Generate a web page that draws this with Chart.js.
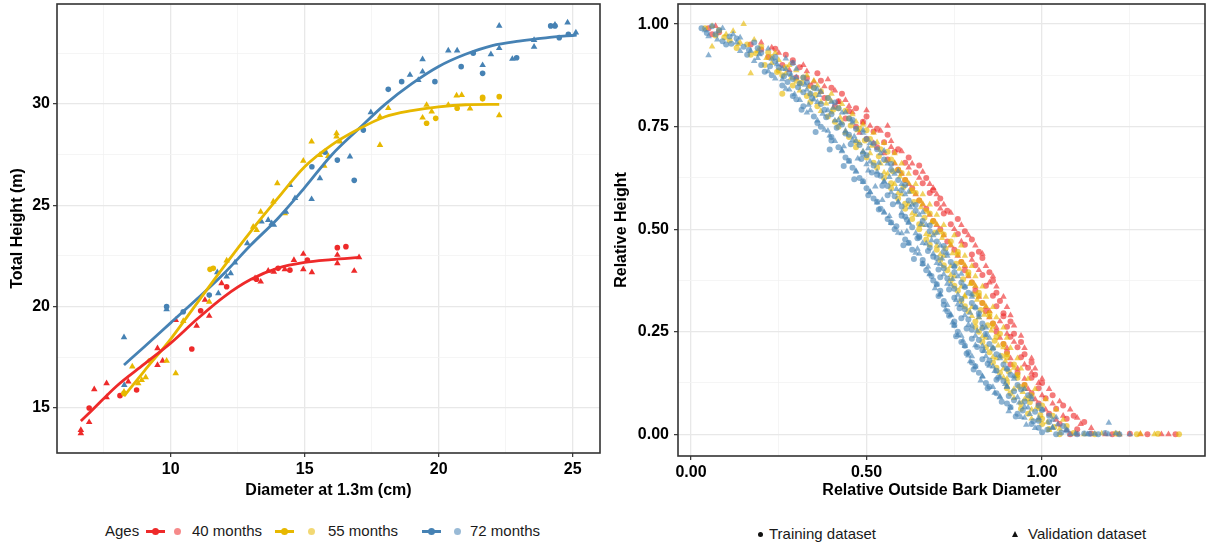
<!DOCTYPE html>
<html><head><meta charset="utf-8">
<script src="https://cdn.jsdelivr.net/npm/chart.js@4.4.1/dist/chart.umd.min.js"></script>
<style>
body{margin:0;background:#fff;width:1209px;height:550px;position:relative;overflow:hidden;font-family:"Liberation Sans",Arial,sans-serif;}
#c1{position:absolute;left:0;top:0;}
#c2{position:absolute;left:604px;top:0;}
.t{position:absolute;font-size:15px;color:#1a1a1a;white-space:nowrap;line-height:18px;}
.ln{position:absolute;height:3px;}
.dt{position:absolute;border-radius:50%;}
</style></head><body>
<canvas id="c1" width="604" height="510"></canvas>
<canvas id="c2" width="605" height="510"></canvas>
<div id="legend"></div>
<script>
// ---------- Left panel data (diameter cm, height m) ----------
const ageLabels = ['40 months','55 months','72 months'];
const ageColors = ['#EE2A2A','#E7B800','#4682B4'];

const age40Train = [[6.96,15.0],[8.11,15.61],[8.73,15.89],[10.79,17.91],[11.12,19.8],[12.09,20.98],[13.2,21.35],[14.01,21.89],[14.45,21.8],[15.1,22.3],[16.22,22.91],[16.54,22.96]];
const age40Valid = [[6.65,13.91],[6.65,13.75],[6.96,14.3],[7.15,15.92],[7.61,16.22],[7.61,15.53],[8.42,16.3],[9.51,17.94],[9.51,17.12],[9.7,17.33],[10.19,19.34],[10.97,19.05],[11.44,19.54],[11.28,20.33],[11.9,21.15],[13.15,21.4],[13.36,21.23],[13.64,21.77],[13.85,21.72],[14.26,21.84],[14.6,22.3],[14.95,22.6],[14.95,21.84],[15.27,21.69],[16.22,22.55],[16.22,22.14],[16.85,21.76],[17.03,22.43]];
const age55Train = [[8.26,15.72],[9.23,17.33],[11.47,21.84],[11.59,21.89],[19.55,29.05],[19.89,29.29],[20.69,29.79],[21.64,30.33],[21.64,30.25],[22.26,30.36]];
const age55Valid = [[8.26,15.8],[8.57,17.04],[8.79,16.22],[8.92,16.38],[9.07,16.51],[9.85,17.33],[10.19,16.71],[10.47,19.29],[11.44,20.24],[12.09,22.27],[13.08,23.94],[13.21,23.78],[13.36,24.68],[13.98,26.08],[13.83,25.18],[14.26,24.6],[14.95,27.19],[15.26,28.14],[15.57,27.48],[15.76,27.64],[15.88,27.43],[15.73,26.95],[16.19,28.55],[16.19,28.39],[16.32,28.14],[18.12,29.79],[17.81,29.37],[17.81,27.97],[19.55,29.95],[19.4,29.32],[19.74,29.62],[20.36,29.95],[20.67,30.41],[20.86,30.44],[21.17,29.77],[22.26,29.44]];
const age72Train = [[9.85,20.0],[10.47,19.75],[11.44,20.57],[15.27,26.9],[15.76,27.62],[16.22,27.23],[16.85,26.23],[17.19,28.71],[18.12,30.72],[18.62,31.1],[19.86,31.1],[20.84,31.84],[21.29,32.5],[21.64,31.51],[22.91,32.28],[24.18,33.85],[24.34,33.85],[24.5,33.27],[24.84,33.44]];
const age72Valid = [[8.26,18.49],[8.27,16.13],[9.85,19.87],[11.78,20.66],[11.74,21.69],[12.09,21.48],[12.24,21.64],[12.4,22.17],[12.86,23.12],[13.39,24.19],[13.64,24.27],[13.77,24.11],[13.85,24.03],[14.3,24.68],[14.64,25.35],[14.45,26.0],[15.26,25.3],[15.57,26.33],[16.69,27.4],[17.47,29.59],[18.93,31.43],[19.24,31.18],[19.4,32.2],[19.4,31.59],[20.36,32.63],[20.69,32.63],[21.64,31.91],[21.95,32.45],[22.26,33.85],[22.26,32.75],[22.75,32.22],[23.56,33.15],[23.56,32.82],[24.34,33.9],[24.81,34.01],[25.12,33.52]];

const fit40X = [6.65,7,8,9,10,11,12,13,14,15,16,17.06];
const fit40Y = [14.36,14.8,16.1,17.15,18.2,19.4,20.5,21.35,21.9,22.18,22.32,22.43];
const fit55X = [8.26,9,10,11,12,13,14,15,16,17,18,19,20,21,22.26];
const fit55Y = [15.59,16.8,18.4,20.2,22.0,23.73,25.35,26.9,27.97,28.75,29.37,29.67,29.86,29.96,29.98];
const fit72X = [8.26,9,10,11,12,13,14,15,16,17,18,19,20,21,22,23,24,25.15];
const fit72Y = [17.12,18.0,19.2,20.4,21.65,23.05,24.35,25.87,27.47,28.75,29.98,31.0,31.85,32.45,32.88,33.1,33.26,33.4];

const leftXMajor = [10,15,20,25], leftXMinor = [7.5,12.5,17.5,22.5];
const leftYMajor = [15,20,25,30], leftYMinor = [17.5,22.5,27.5,32.5];

// ---------- Right panel data (relative diameter, relative height) ----------
const blueTrain = [[0.03,0.99],[0.06,0.995],[0.08,0.985],[0.07,0.975],[0.11,0.97],[0.13,0.965],[0.1,0.95],[0.15,0.945],[0.18,0.955],[0.16,0.925],[0.2,0.93],[0.24,0.92],[0.2,0.9],[0.25,0.895],[0.29,0.905],[0.23,0.875],[0.28,0.88],[0.32,0.87],[0.26,0.85],[0.31,0.855],[0.35,0.845],[0.29,0.825],[0.34,0.83],[0.39,0.82],[0.32,0.8],[0.37,0.805],[0.42,0.795],[0.35,0.775],[0.4,0.78],[0.45,0.77],[0.37,0.75],[0.43,0.755],[0.47,0.745],[0.4,0.725],[0.45,0.73],[0.5,0.72],[0.42,0.7],[0.48,0.705],[0.53,0.695],[0.44,0.675],[0.5,0.68],[0.55,0.67],[0.46,0.65],[0.52,0.655],[0.57,0.645],[0.48,0.625],[0.54,0.63],[0.59,0.62],[0.5,0.6],[0.56,0.605],[0.6,0.595],[0.52,0.575],[0.58,0.58],[0.62,0.57],[0.54,0.55],[0.6,0.555],[0.64,0.545],[0.56,0.525],[0.61,0.53],[0.66,0.52],[0.58,0.5],[0.63,0.505],[0.68,0.495],[0.61,0.475],[0.65,0.48],[0.7,0.47],[0.63,0.45],[0.68,0.455],[0.72,0.445],[0.66,0.425],[0.7,0.43],[0.74,0.42],[0.67,0.4],[0.72,0.405],[0.75,0.395],[0.69,0.375],[0.73,0.38],[0.77,0.37],[0.71,0.35],[0.75,0.355],[0.79,0.345],[0.72,0.325],[0.77,0.33],[0.8,0.32],[0.73,0.3],[0.78,0.305],[0.82,0.295],[0.75,0.275],[0.79,0.28],[0.83,0.27],[0.76,0.25],[0.8,0.255],[0.84,0.245],[0.77,0.225],[0.82,0.23],[0.85,0.22],[0.79,0.2],[0.83,0.205],[0.87,0.195],[0.8,0.175],[0.85,0.18],[0.89,0.17],[0.82,0.15],[0.87,0.155],[0.91,0.145],[0.84,0.125],[0.89,0.13],[0.93,0.12],[0.87,0.1],[0.92,0.105],[0.96,0.095],[0.9,0.075],[0.95,0.08],[0.99,0.07],[0.93,0.05],[0.98,0.055],[1.02,0.045],[0.97,0.025],[1.02,0.03],[1.06,0.02],[1.0,0.005],[1.04,0.0],[1.1,0.0],[1.16,0.0],[1.22,0.0],
  [0.09,0.958],[0.19,0.941],[0.24,0.909],[0.21,0.884],[0.29,0.866],[0.33,0.858],[0.32,0.834],[0.3,0.817],[0.41,0.809],[0.38,0.791],[0.36,0.759],[0.46,0.766],[0.44,0.733],[0.4,0.716],[0.52,0.709],[0.49,0.684],[0.45,0.667],[0.57,0.659],[0.53,0.633],[0.49,0.617],[0.61,0.608],[0.56,0.583],[0.53,0.567],[0.64,0.559],[0.6,0.533],[0.57,0.516],[0.68,0.509],[0.65,0.483],[0.62,0.467],[0.72,0.459],[0.69,0.433],[0.66,0.416],[0.75,0.409],[0.71,0.383],[0.7,0.366],[0.78,0.359],[0.75,0.333],[0.72,0.316],[0.81,0.309],[0.77,0.283],[0.75,0.266],[0.83,0.259],[0.8,0.233],[0.78,0.216],[0.86,0.209],[0.83,0.183],[0.81,0.166],[0.9,0.159],[0.87,0.133],[0.85,0.116],[0.94,0.109],[0.92,0.083],[0.91,0.066],[1.0,0.059],[0.99,0.033],[0.99,0.016],[1.07,0.009],[1.12,0.002],[1.18,0.003],
  [0.045,0.978],[0.115,0.952],[0.165,0.937],[0.225,0.897],[0.265,0.873],[0.305,0.846],[0.275,0.859],[0.345,0.819],[0.315,0.791],[0.385,0.773],[0.415,0.747],[0.355,0.737],[0.455,0.707],[0.395,0.694],[0.485,0.671],[0.435,0.654],[0.515,0.638],[0.465,0.622],[0.545,0.606],[0.505,0.583],[0.575,0.561],[0.535,0.548],[0.615,0.523],[0.585,0.507],[0.645,0.478],[0.605,0.461],[0.675,0.447],[0.635,0.427],[0.705,0.402],[0.685,0.386],[0.735,0.353],[0.705,0.337],[0.765,0.307],[0.735,0.289],[0.785,0.258],[0.755,0.239],[0.815,0.213],[0.785,0.197],[0.845,0.172],[0.805,0.158],[0.875,0.138],[0.845,0.112],[0.905,0.093],[0.885,0.079],[0.945,0.058],[0.925,0.043],[0.975,0.032],[1.015,0.011],[1.055,0.004],[1.135,0.001]];
const blueValid = [[0.04,0.985],[0.05,0.97],[0.09,0.99],[0.12,0.975],[0.05,0.924],[0.13,0.955],[0.17,0.935],[0.22,0.94],[0.18,0.91],[0.23,0.915],[0.27,0.89],[0.22,0.885],[0.26,0.865],[0.3,0.87],[0.28,0.84],[0.33,0.84],[0.37,0.835],[0.31,0.815],[0.36,0.81],[0.4,0.81],[0.34,0.79],[0.39,0.79],[0.44,0.785],[0.36,0.765],[0.41,0.765],[0.46,0.76],[0.39,0.74],[0.44,0.74],[0.49,0.735],[0.41,0.715],[0.47,0.715],[0.51,0.71],[0.43,0.69],[0.49,0.69],[0.54,0.685],[0.45,0.665],[0.51,0.665],[0.56,0.66],[0.47,0.64],[0.53,0.64],[0.58,0.635],[0.49,0.615],[0.55,0.615],[0.6,0.61],[0.51,0.59],[0.57,0.59],[0.61,0.585],[0.53,0.565],[0.59,0.565],[0.63,0.56],[0.55,0.54],[0.6,0.54],[0.65,0.535],[0.57,0.515],[0.62,0.515],[0.67,0.51],[0.6,0.49],[0.64,0.49],[0.69,0.485],[0.62,0.465],[0.67,0.465],[0.71,0.46],[0.65,0.44],[0.69,0.44],[0.73,0.435],[0.66,0.415],[0.71,0.415],[0.75,0.41],[0.68,0.39],[0.72,0.39],[0.76,0.385],[0.7,0.365],[0.74,0.365],[0.78,0.36],[0.71,0.34],[0.76,0.34],[0.8,0.335],[0.73,0.315],[0.77,0.315],[0.81,0.31],[0.74,0.29],[0.78,0.29],[0.82,0.285],[0.75,0.265],[0.8,0.265],[0.84,0.26],[0.77,0.24],[0.81,0.24],[0.85,0.235],[0.78,0.215],[0.83,0.215],[0.86,0.21],[0.8,0.19],[0.84,0.19],[0.88,0.185],[0.81,0.165],[0.86,0.165],[0.9,0.16],[0.83,0.14],[0.88,0.14],[0.92,0.135],[0.86,0.115],[0.9,0.115],[0.95,0.11],[0.88,0.09],[0.93,0.09],[0.97,0.085],[0.91,0.065],[0.96,0.065],[1.0,0.06],[0.95,0.04],[0.99,0.04],[1.03,0.035],[0.98,0.015],[1.03,0.015],[1.07,0.01],[1.08,0.0],[1.13,0.0],[1.19,0.0],[1.25,0.0],[1.19,0.028],
  [0.14,0.967],[0.14,0.934],[0.19,0.917],[0.27,0.916],[0.26,0.891],[0.3,0.891],[0.24,0.867],[0.27,0.842],[0.36,0.841],[0.35,0.816],[0.33,0.784],[0.43,0.784],[0.42,0.766],[0.38,0.742],[0.49,0.741],[0.46,0.717],[0.43,0.692],[0.55,0.691],[0.5,0.658],[0.47,0.642],[0.59,0.641],[0.55,0.617],[0.51,0.591],[0.62,0.591],[0.59,0.567],[0.55,0.542],[0.66,0.541],[0.62,0.517],[0.59,0.491],[0.7,0.491],[0.66,0.466],[0.64,0.442],[0.73,0.441],[0.7,0.417],[0.68,0.392],[0.77,0.391],[0.73,0.367],[0.71,0.342],[0.8,0.341],[0.76,0.317],[0.74,0.292],[0.82,0.291],[0.79,0.267],[0.76,0.242],[0.84,0.241],[0.81,0.217],[0.79,0.192],[0.88,0.191],[0.85,0.167],[0.83,0.142],[0.92,0.141],[0.9,0.117],[0.88,0.092],[0.97,0.091],[0.95,0.067],[0.94,0.042],[1.04,0.041],[1.03,0.017],[1.15,0.001],[1.21,0.002],
  [0.075,0.962],[0.195,0.926],[0.245,0.902],[0.285,0.876],[0.325,0.852],[0.295,0.829],[0.365,0.827],[0.335,0.803],[0.405,0.796],[0.375,0.781],[0.425,0.758],[0.395,0.728],[0.465,0.726],[0.435,0.702],[0.505,0.697],[0.475,0.672],[0.535,0.662],[0.505,0.643],[0.565,0.627],[0.525,0.604],[0.585,0.598],[0.545,0.571],[0.625,0.553],[0.565,0.532],[0.655,0.512],[0.615,0.494],[0.685,0.473],[0.645,0.452],[0.715,0.428],[0.675,0.409],[0.745,0.378],[0.695,0.356],[0.755,0.327],[0.725,0.304],[0.795,0.296],[0.745,0.272],[0.815,0.252],[0.775,0.228],[0.835,0.203],[0.795,0.178],[0.865,0.154],[0.825,0.131],[0.895,0.122],[0.865,0.101],[0.935,0.077],[0.905,0.056],[0.965,0.049],[0.955,0.023],[1.045,0.024],[1.095,0.002]];
const yellowTrain = [[0.04,0.99],[0.08,0.985],[0.11,0.96],[0.16,0.95],[0.2,0.945],[0.17,0.925],[0.23,0.92],[0.21,0.9],[0.27,0.895],[0.26,0.875],[0.32,0.87],[0.29,0.85],[0.35,0.845],[0.33,0.825],[0.39,0.82],[0.26,0.83],[0.36,0.8],[0.42,0.795],[0.39,0.775],[0.45,0.77],[0.42,0.75],[0.48,0.745],[0.45,0.725],[0.51,0.72],[0.47,0.7],[0.54,0.695],[0.5,0.675],[0.57,0.67],[0.53,0.65],[0.59,0.645],[0.55,0.625],[0.61,0.62],[0.57,0.6],[0.63,0.595],[0.59,0.575],[0.65,0.57],[0.61,0.55],[0.67,0.545],[0.63,0.525],[0.69,0.52],[0.65,0.5],[0.71,0.495],[0.67,0.475],[0.74,0.47],[0.7,0.45],[0.76,0.445],[0.71,0.425],[0.77,0.42],[0.73,0.4],[0.79,0.395],[0.74,0.375],[0.8,0.37],[0.76,0.35],[0.82,0.345],[0.77,0.325],[0.83,0.32],[0.79,0.3],[0.85,0.295],[0.81,0.275],[0.86,0.27],[0.82,0.25],[0.88,0.245],[0.83,0.225],[0.89,0.22],[0.85,0.2],[0.9,0.195],[0.86,0.175],[0.92,0.17],[0.88,0.15],[0.93,0.145],[0.9,0.125],[0.95,0.12],[0.91,0.1],[0.97,0.095],[0.94,0.075],[1.0,0.07],[0.96,0.05],[1.03,0.045],[1.0,0.025],[1.07,0.02],[1.05,0.0],[1.15,0.0],[1.27,0.0],[1.39,0.0],
  [0.07,0.972],[0.13,0.942],[0.22,0.931],[0.25,0.887],[0.3,0.862],[0.37,0.836],[0.34,0.81],[0.44,0.789],[0.41,0.762],[0.5,0.741],[0.47,0.713],[0.56,0.689],[0.52,0.662],[0.6,0.637],[0.57,0.612],[0.64,0.588],[0.61,0.562],[0.68,0.538],[0.65,0.512],[0.72,0.487],[0.68,0.462],[0.76,0.438],[0.72,0.412],[0.79,0.388],[0.75,0.362],[0.82,0.338],[0.78,0.312],[0.85,0.288],[0.81,0.262],[0.87,0.238],[0.84,0.212],[0.9,0.188],[0.87,0.162],[0.93,0.138],[0.9,0.112],[0.96,0.088],[0.94,0.062],[1.0,0.038],[1.02,0.013],[1.09,0.003],[1.21,0.002],[1.33,0.001],
  [0.095,0.968],[0.185,0.929],[0.245,0.883],[0.315,0.857],[0.355,0.827],[0.405,0.791],[0.455,0.753],[0.495,0.716],[0.535,0.678],[0.575,0.641],[0.605,0.603],[0.635,0.566],[0.665,0.528],[0.695,0.491],[0.725,0.453],[0.755,0.416],[0.775,0.378],[0.805,0.341],[0.825,0.303],[0.845,0.266],[0.865,0.228],[0.885,0.191],[0.905,0.153],[0.935,0.116],[0.965,0.078],[0.995,0.047],[1.035,0.018]];
const yellowValid = [[0.06,0.995],[0.15,1.0],[0.06,0.945],[0.1,0.975],[0.14,0.955],[0.17,0.88],[0.19,0.935],[0.24,0.93],[0.23,0.905],[0.28,0.9],[0.27,0.88],[0.33,0.875],[0.31,0.855],[0.36,0.85],[0.34,0.83],[0.4,0.83],[0.37,0.81],[0.43,0.805],[0.4,0.785],[0.46,0.78],[0.43,0.76],[0.49,0.755],[0.44,0.735],[0.52,0.735],[0.48,0.71],[0.55,0.71],[0.51,0.685],[0.58,0.685],[0.54,0.66],[0.6,0.66],[0.56,0.635],[0.62,0.635],[0.58,0.61],[0.64,0.61],[0.6,0.585],[0.66,0.585],[0.62,0.56],[0.68,0.56],[0.64,0.535],[0.7,0.535],[0.66,0.51],[0.72,0.51],[0.68,0.485],[0.75,0.485],[0.7,0.46],[0.77,0.46],[0.72,0.435],[0.78,0.435],[0.74,0.41],[0.8,0.41],[0.75,0.385],[0.81,0.385],[0.77,0.36],[0.83,0.36],[0.78,0.335],[0.84,0.335],[0.8,0.31],[0.86,0.31],[0.82,0.285],[0.87,0.285],[0.83,0.26],[0.89,0.26],[0.84,0.235],[0.9,0.235],[0.86,0.21],[0.91,0.21],[0.87,0.185],[0.93,0.185],[0.89,0.16],[0.94,0.16],[0.9,0.135],[0.96,0.135],[0.92,0.11],[0.98,0.11],[0.95,0.085],[1.01,0.085],[0.97,0.06],[1.04,0.06],[0.99,0.035],[1.06,0.035],[1.02,0.01],[1.12,0.0],[1.22,0.0],[1.32,0.0],
  [0.12,0.983],[0.18,0.962],[0.25,0.912],[0.3,0.887],[0.35,0.862],[0.31,0.838],[0.4,0.812],[0.37,0.788],[0.47,0.762],[0.44,0.738],[0.53,0.712],[0.49,0.688],[0.58,0.662],[0.55,0.638],[0.62,0.612],[0.59,0.588],[0.66,0.562],[0.63,0.538],[0.7,0.512],[0.67,0.488],[0.74,0.462],[0.71,0.438],[0.78,0.412],[0.74,0.388],[0.81,0.362],[0.78,0.338],[0.84,0.312],[0.8,0.288],[0.86,0.262],[0.83,0.238],[0.89,0.212],[0.86,0.188],[0.92,0.162],[0.89,0.138],[0.95,0.112],[0.92,0.088],[0.99,0.062],[0.97,0.038],[1.05,0.013],[1.17,0.002],[1.28,0.001],
  [0.135,0.951],[0.215,0.917],[0.285,0.869],[0.335,0.847],[0.385,0.806],[0.425,0.772],[0.475,0.741],[0.515,0.703],[0.555,0.666],[0.595,0.628],[0.625,0.591],[0.655,0.553],[0.685,0.516],[0.715,0.478],[0.745,0.441],[0.765,0.403],[0.795,0.366],[0.815,0.328],[0.835,0.291],[0.855,0.253],[0.875,0.216],[0.895,0.178],[0.925,0.141],[0.945,0.103],[0.985,0.066],[1.015,0.029]];
const redTrain = [[0.05,0.99],[0.08,0.98],[0.17,0.95],[0.24,0.94],[0.22,0.92],[0.27,0.925],[0.26,0.9],[0.31,0.895],[0.3,0.87],[0.36,0.88],[0.34,0.85],[0.4,0.845],[0.38,0.82],[0.43,0.83],[0.41,0.8],[0.47,0.795],[0.44,0.77],[0.5,0.775],[0.47,0.75],[0.53,0.745],[0.5,0.72],[0.56,0.73],[0.53,0.7],[0.59,0.695],[0.56,0.67],[0.62,0.675],[0.59,0.645],[0.65,0.655],[0.61,0.62],[0.67,0.625],[0.63,0.6],[0.69,0.595],[0.65,0.57],[0.71,0.575],[0.67,0.55],[0.73,0.545],[0.69,0.52],[0.76,0.525],[0.71,0.5],[0.78,0.495],[0.73,0.47],[0.8,0.475],[0.75,0.45],[0.82,0.445],[0.77,0.42],[0.83,0.43],[0.78,0.4],[0.85,0.395],[0.8,0.37],[0.86,0.375],[0.81,0.35],[0.87,0.345],[0.83,0.32],[0.88,0.325],[0.84,0.3],[0.89,0.295],[0.86,0.27],[0.91,0.275],[0.87,0.25],[0.92,0.245],[0.89,0.22],[0.94,0.225],[0.9,0.2],[0.95,0.195],[0.91,0.17],[0.97,0.175],[0.93,0.15],[0.98,0.145],[0.95,0.12],[1.0,0.125],[0.97,0.1],[1.03,0.095],[0.99,0.075],[1.06,0.07],[1.02,0.05],[1.09,0.045],[1.05,0.025],[1.12,0.03],[1.08,0.0],[1.2,0.0],[1.3,0.0],[1.38,0.0],
  [0.06,0.975],[0.2,0.938],[0.29,0.912],[0.33,0.868],[0.37,0.862],[0.42,0.812],[0.45,0.788],[0.49,0.762],[0.52,0.738],[0.55,0.712],[0.58,0.688],[0.61,0.662],[0.64,0.638],[0.66,0.612],[0.68,0.588],[0.7,0.562],[0.72,0.538],[0.74,0.512],[0.76,0.488],[0.78,0.462],[0.8,0.438],[0.81,0.412],[0.83,0.388],[0.84,0.362],[0.86,0.338],[0.87,0.312],[0.89,0.288],[0.9,0.262],[0.91,0.238],[0.93,0.212],[0.94,0.188],[0.96,0.162],[0.97,0.138],[0.99,0.112],[1.01,0.088],[1.04,0.062],[1.07,0.038],[1.1,0.012],[1.14,0.002],[1.25,0.001]];
const redValid = [[0.07,0.995],[0.2,0.955],[0.25,0.93],[0.29,0.905],[0.33,0.885],[0.35,0.86],[0.39,0.865],[0.37,0.835],[0.42,0.81],[0.45,0.8],[0.46,0.785],[0.49,0.76],[0.48,0.735],[0.54,0.74],[0.52,0.71],[0.57,0.715],[0.55,0.685],[0.6,0.69],[0.58,0.66],[0.63,0.66],[0.6,0.635],[0.66,0.64],[0.62,0.61],[0.68,0.61],[0.64,0.585],[0.7,0.585],[0.66,0.56],[0.72,0.56],[0.68,0.535],[0.74,0.54],[0.7,0.51],[0.77,0.51],[0.72,0.485],[0.79,0.485],[0.74,0.46],[0.81,0.46],[0.76,0.435],[0.83,0.44],[0.78,0.41],[0.84,0.41],[0.79,0.385],[0.86,0.385],[0.81,0.36],[0.87,0.36],[0.82,0.335],[0.89,0.335],[0.84,0.31],[0.9,0.31],[0.85,0.285],[0.91,0.29],[0.87,0.26],[0.92,0.265],[0.88,0.235],[0.94,0.24],[0.9,0.21],[0.95,0.21],[0.91,0.185],[0.97,0.185],[0.93,0.16],[0.98,0.16],[0.95,0.135],[1.0,0.135],[0.96,0.11],[1.02,0.11],[0.98,0.085],[1.05,0.08],[1.01,0.06],[1.08,0.06],[1.04,0.035],[1.1,0.04],[1.07,0.01],[1.14,0.015],[1.1,0.0],[1.18,0.0],[1.34,0.0],[1.36,0.0],
  [0.23,0.943],[0.28,0.888],[0.32,0.9],[0.38,0.848],[0.41,0.838],[0.44,0.815],[0.5,0.79],[0.51,0.752],[0.56,0.752],[0.57,0.7],[0.62,0.65],[0.65,0.625],[0.69,0.6],[0.71,0.55],[0.75,0.5],[0.77,0.47],[0.8,0.425],[0.82,0.4],[0.85,0.37],[0.85,0.3],[0.88,0.275],[0.9,0.245],[0.92,0.225],[0.95,0.17],[0.97,0.15],[0.99,0.125],[1.0,0.095],[1.03,0.075],[1.06,0.045],[1.11,0.025],[1.22,0.0],[1.28,0.0]];

const rightXMajor = [0, 0.5, 1.0], rightXMinor = [0.25, 0.75, 1.25];
const rightYMajor = [0, 0.25, 0.5, 0.75, 1.0], rightYMinor = [0.125, 0.375, 0.625, 0.875];

// ---------- helpers ----------
const FONT = '"Liberation Sans", Arial, sans-serif';
const pts = a => a.map(p => ({x:p[0], y:p[1]}));
const fitPts = (xs, ys) => xs.map((x,i) => ({x, y: ys[i]}));
function alpha(hex, a){const n=parseInt(hex.slice(1),16);return `rgba(${n>>16&255},${n>>8&255},${n&255},${a})`;}

const framePlugin = {
  id:'frame',
  afterDraw(chart){
    const {ctx, chartArea:a} = chart;
    ctx.save(); ctx.strokeStyle='#333'; ctx.lineWidth=1.6;
    ctx.strokeRect(a.left, a.top, a.right-a.left, a.bottom-a.top);
    ctx.restore();
  }
};

function axis(opts){
  const {min,max,major,minor,fmt,title,size,horizontal,titlePad,tickPad} = opts;
  const all = [...major, ...minor].sort((a,b)=>a-b);
  const isMaj = v => major.includes(v);
  return {
    type:'linear', min, max,
    afterBuildTicks: s => { s.ticks = all.map(v => ({value:v})); },
    afterFit: s => {
      if (horizontal) s.height = size; else s.width = size;
      s.paddingTop = 0; s.paddingBottom = 0; s.paddingLeft = 0; s.paddingRight = 0;
    },
    border:{display:false},
    grid:{
      drawTicks:true, tickLength:4,
      color: c => (c.tick && isMaj(c.tick.value)) ? '#e8e8e8' : '#f3f3f3',
      lineWidth: c => (c.tick && isMaj(c.tick.value)) ? 1.3 : 0.8,
      tickColor: c => (c.tick && isMaj(c.tick.value)) ? '#333' : 'rgba(0,0,0,0)',
      tickWidth: 1.2
    },
    ticks:{
      autoSkip:false, maxRotation:0, padding: tickPad,
      color:'#000', font:{family:FONT, size:16, weight:'bold'},
      callback: v => isMaj(v) ? fmt(v) : ''
    },
    title:{display:true, text:title, color:'#000', font:{family:FONT, size:16, weight:'bold'}, padding:titlePad}
  };
}

// ---------- Left chart ----------
const leftDatasets = [];
[[fit40X,fit40Y],[fit55X,fit55Y],[fit72X,fit72Y]].forEach((f,i)=>{
  leftDatasets.push({data:fitPts(f[0],f[1]), showLine:true, borderColor:ageColors[i], borderWidth:2.8,
    pointRadius:0, cubicInterpolationMode:'monotone', fill:false});
});
[[age72Train,age72Valid,2],[age55Train,age55Valid,1],[age40Train,age40Valid,0]].forEach(g=>{
  const c = ageColors[g[2]];
  leftDatasets.push({data:pts(g[0]), pointStyle:'circle', pointRadius:2.8, pointBorderWidth:0, backgroundColor:c, borderColor:c, showLine:false});
  leftDatasets.push({data:pts(g[1]), pointStyle:'triangle', pointRadius:3.8, pointBorderWidth:0, backgroundColor:c, borderColor:c, showLine:false});
});

new Chart(document.getElementById('c1'), {
  type:'scatter',
  data:{datasets:leftDatasets},
  plugins:[framePlugin],
  options:{
    responsive:false, animation:false,
    layout:{padding:{top:4,right:3,left:0,bottom:0}},
    plugins:{legend:{display:false}, tooltip:{enabled:false}},
    scales:{
      x: axis({min:5.76,max:26.02,major:leftXMajor,minor:leftXMinor,fmt:v=>String(v),title:'Diameter at 1.3m (cm)',size:57,horizontal:true,titlePad:{top:0,bottom:10},tickPad:3}),
      y: axis({min:12.78,max:34.93,major:leftYMajor,minor:leftYMinor,fmt:v=>String(v),title:'Total Height (m)',size:57,horizontal:false,titlePad:{top:8,bottom:0},tickPad:3})
    }
  }
});

// ---------- Right chart ----------
const rightDatasets = [];
[[blueTrain,blueValid,2],[yellowTrain,yellowValid,1],[redTrain,redValid,0]].forEach(g=>{
  const c = alpha(ageColors[g[2]], 0.62);
  rightDatasets.push({data:pts(g[0]), pointStyle:'circle', pointRadius:3, pointBorderWidth:0, backgroundColor:c, borderColor:c});
  rightDatasets.push({data:pts(g[1]), pointStyle:'triangle', pointRadius:3.8, pointBorderWidth:0, backgroundColor:c, borderColor:c});
});

new Chart(document.getElementById('c2'), {
  type:'scatter',
  data:{datasets:rightDatasets},
  plugins:[framePlugin],
  options:{
    responsive:false, animation:false,
    layout:{padding:{top:4,right:3,left:0,bottom:0}},
    plugins:{legend:{display:false}, tooltip:{enabled:false}},
    scales:{
      x: axis({min:-0.037,max:1.464,major:rightXMajor,minor:rightXMinor,fmt:v=>v.toFixed(2),title:'Relative Outside Bark Diameter',size:54,horizontal:true,titlePad:{top:0,bottom:10},tickPad:3}),
      y: axis({min:-0.053,max:1.049,major:rightYMajor,minor:rightYMinor,fmt:v=>v.toFixed(2),title:'Relative Height',size:74,horizontal:false,titlePad:{top:8,bottom:0},tickPad:5})
    }
  }
});

// ---------- Legends (HTML) ----------
const L = document.getElementById('legend');
function add(html){L.insertAdjacentHTML('beforeend', html);}
add(`<div class="t" style="left:105px;top:522px">Ages</div>`);
const keyX = [146, 275, 422], textX = [192, 328, 470], fadeX = [177.5, 311.5, 457.5];
ageLabels.forEach((lab,i)=>{
  const c = ageColors[i];
  add(`<div class="ln" style="left:${keyX[i]}px;top:530px;width:19px;background:${c}"></div>`);
  add(`<div class="dt" style="left:${keyX[i]+6}px;top:528px;width:7px;height:7px;background:${c}"></div>`);
  add(`<div class="dt" style="left:${fadeX[i]-3.5}px;top:528px;width:7px;height:7px;background:${alpha(c,0.55)}"></div>`);
  add(`<div class="t" style="left:${textX[i]}px;top:522px">${lab}</div>`);
});
const shapeLabels = ['Training dataset','Validation dataset'];
add(`<div class="dt" style="left:757.5px;top:531.5px;width:5px;height:5px;background:#111"></div>`);
add(`<div class="t" style="left:769px;top:525px">${shapeLabels[0]}</div>`);
add(`<div style="position:absolute;left:1011.5px;top:531px;width:0;height:0;border-left:3.5px solid transparent;border-right:3.5px solid transparent;border-bottom:6px solid #111"></div>`);
add(`<div class="t" style="left:1028px;top:525px">${shapeLabels[1]}</div>`);
</script>
</body></html>
